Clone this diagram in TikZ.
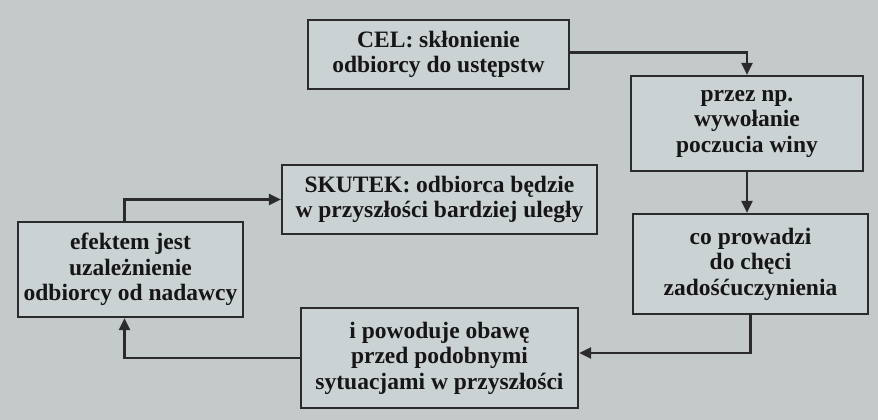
\documentclass[tikz,border=0pt]{standalone}
\usepackage{fontspec}
\setmainfont{Liberation Serif}
\usetikzlibrary{arrows.meta}
\definecolor{pagebg}{HTML}{C4CACA}
\definecolor{boxbg}{HTML}{CBD2D3}
\definecolor{ink}{HTML}{2B2A2C}
\definecolor{txt}{HTML}{161517}
\tikzset{
  stepbox/.style={draw=ink, line width=2.2pt, fill=boxbg, align=center, inner sep=0pt,
    text=txt, font=\fontsize{23.5}{25.5}\selectfont\bfseries},
  arr/.style={draw=ink, line width=2.2pt, -{Triangle[length=12pt,width=11pt]}},
}
\begin{document}
\begin{tikzpicture}[x=1pt,y=-1pt]
\useasboundingbox (0,0) rectangle (878,420);
\fill[pagebg] (0,0) rectangle (878,420);
\node[stepbox, minimum width=261pt, minimum height=69pt] (cel) at (438.5,54.5)
  {CEL: skłonienie\\odbiorcy do ustępstw};
\node[stepbox, minimum width=232pt, minimum height=95pt] (b2) at (747,123.5)
  {przez np.\\wywołanie\\poczucia winy};
\node[stepbox, minimum width=235pt, minimum height=100pt] (b3) at (750.5,264)
  {co prowadzi\\do chęci\\zadośćuczynienia};
\node[stepbox, minimum width=277pt, minimum height=100pt] (b4) at (439.5,358)
  {i powoduje obawę\\przed podobnymi\\sytuacjami w przyszłości};
\node[stepbox, minimum width=225pt, minimum height=95pt] (b5) at (130.5,269.5)
  {efektem jest\\uzależnienie\\odbiorcy od nadawcy};
\node[stepbox, minimum width=315pt, minimum height=69pt] (sk) at (439.5,199.5)
  {SKUTEK: odbiorca będzie\\w przyszłości bardziej uległy};
\draw[arr] ([yshift=2pt]cel.east) -| (b2.north);
\draw[arr] (b2.south) -- (b2.south |- b3.north);
\draw[arr] (b3.south) |- ([yshift=5pt]b4.east);
\draw[arr] (b4.west) -| ([xshift=-6pt]b5.south);
\draw[arr] ([xshift=-6pt]b5.north) |- (sk.west);
\end{tikzpicture}
\end{document}
